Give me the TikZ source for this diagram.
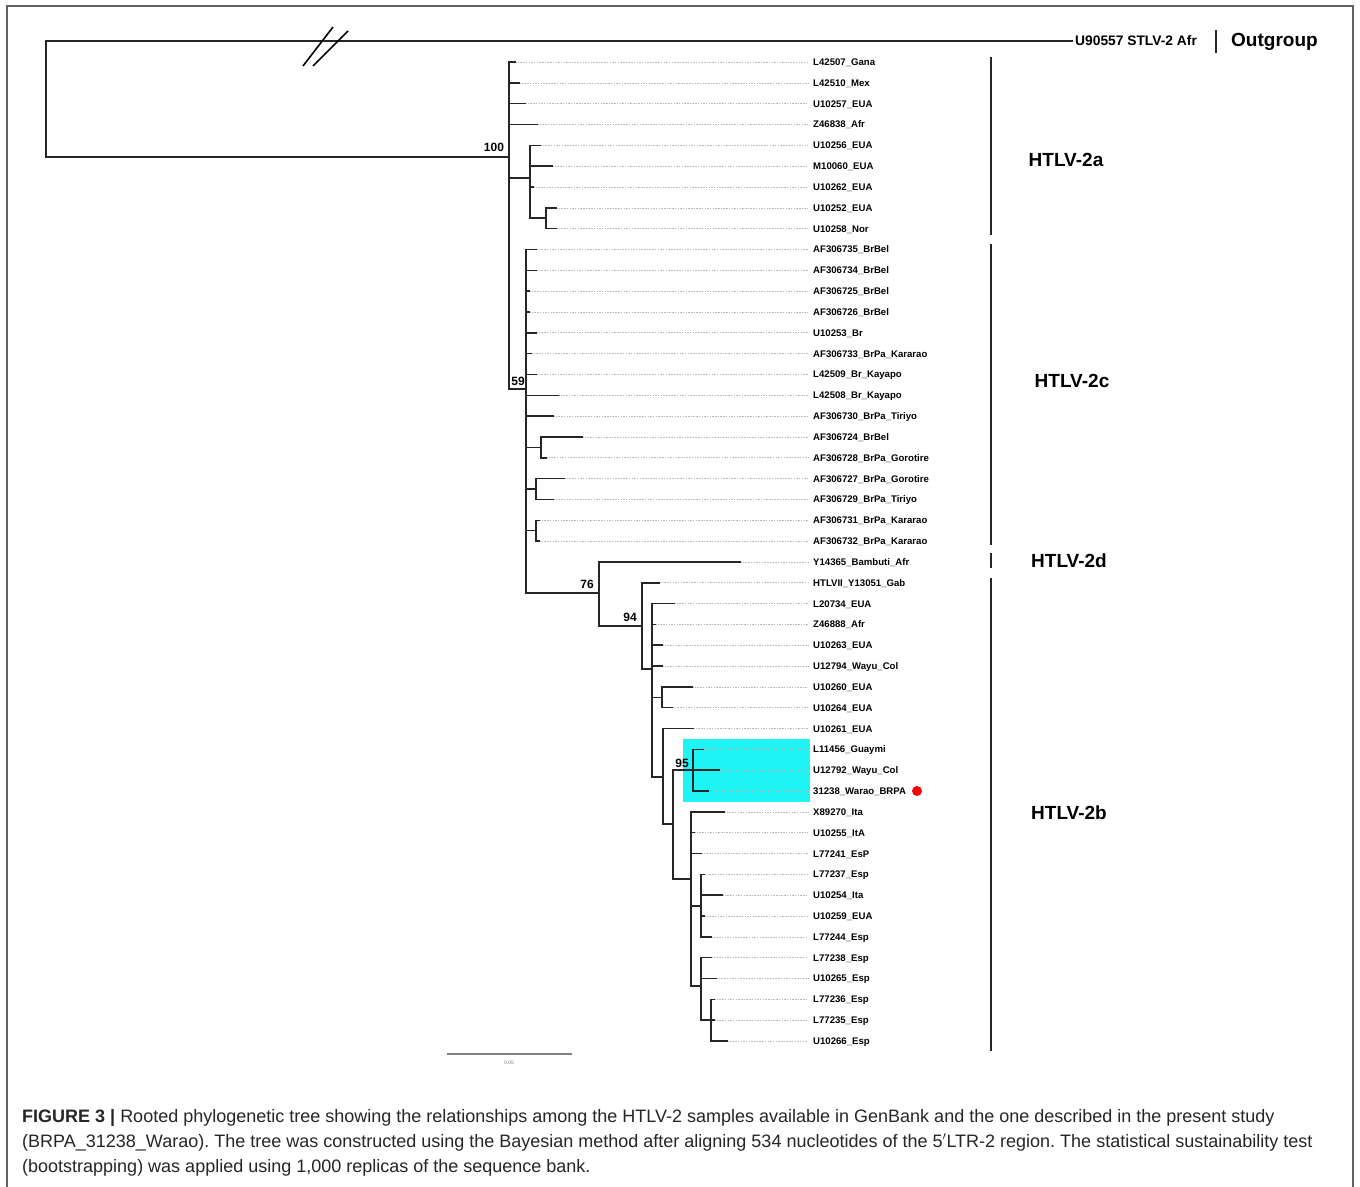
\documentclass[tikz,border=0pt]{standalone}
\usepackage{fontspec}
\setmainfont{Liberation Sans}
\definecolor{hl}{HTML}{1EF4F4}
\newcommand\tleaf[4]{% id, row, tip x, text
  \coordinate (t#1) at (#3,{62+(#2-1)*20.83});
  \node[lbl] (l#1) at (813,{62+(#2-1)*20.83}) {#4};
  \draw[dots] (t#1) -- (l#1.west);
}
\begin{document}
\frenchspacing
\begin{tikzpicture}[x=1pt,y=-1pt,
  br/.style={line width=1.5pt, black!85, line cap=rect},
  dots/.style={gray!55, line width=0.6pt, dash pattern=on 1.5pt off 1.2pt, shorten >=5pt},
  lbl/.style={font=\bfseries\fontsize{9.6pt}{11pt}\selectfont, inner sep=0pt, anchor=west, text height=6.9pt, text depth=0pt},
  boot/.style={font=\bfseries\fontsize{12pt}{14pt}\selectfont, inner sep=0pt},
  clade/.style={font=\bfseries\fontsize{19pt}{22pt}\selectfont, inner sep=0pt},
  bar/.style={line width=2pt, black!85},
  capt/.style={font=\fontsize{18pt}{21pt}\selectfont, inner sep=0pt, anchor=base west, text=black!85}]
\useasboundingbox (0,0) rectangle (1360,1186);
\fill[white] (0,0) rectangle (1360,1186);
% frame
\draw[gray!75!black, line width=1.5pt] (7,1190) -- (7,6) -- (1353,6) -- (1353,1190);
% highlight box
\fill[hl] (683,739) rectangle (810,802);
% leaves
\tleaf{1}{1}{515}{L42507\_Gana}
\tleaf{2}{2}{519}{L42510\_Mex}
\tleaf{3}{3}{525}{U10257\_EUA}
\tleaf{4}{4}{537}{Z46838\_Afr}
\tleaf{5}{5}{540}{U10256\_EUA}
\tleaf{6}{6}{552}{M10060\_EUA}
\tleaf{7}{7}{533}{U10262\_EUA}
\tleaf{8}{8}{556}{U10252\_EUA}
\tleaf{9}{9}{556}{U10258\_Nor}
\tleaf{10}{10}{536}{AF306735\_BrBel}
\tleaf{11}{11}{536}{AF306734\_BrBel}
\tleaf{12}{12}{529}{AF306725\_BrBel}
\tleaf{13}{13}{529}{AF306726\_BrBel}
\tleaf{14}{14}{536}{U10253\_Br}
\tleaf{15}{15}{531}{AF306733\_BrPa\_Kararao}
\tleaf{16}{16}{536}{L42509\_Br\_Kayapo}
\tleaf{17}{17}{558}{L42508\_Br\_Kayapo}
\tleaf{18}{18}{553}{AF306730\_BrPa\_Tiriyo}
\tleaf{19}{19}{582}{AF306724\_BrBel}
\tleaf{20}{20}{546}{AF306728\_BrPa\_Gorotire}
\tleaf{21}{21}{564}{AF306727\_BrPa\_Gorotire}
\tleaf{22}{22}{553}{AF306729\_BrPa\_Tiriyo}
\tleaf{23}{23}{539}{AF306731\_BrPa\_Kararao}
\tleaf{24}{24}{539}{AF306732\_BrPa\_Kararao}
\tleaf{25}{25}{740}{Y14365\_Bambuti\_Afr}
\tleaf{26}{26}{659}{HTLVII\_Y13051\_Gab}
\tleaf{27}{27}{674}{L20734\_EUA}
\tleaf{28}{28}{655}{Z46888\_Afr}
\tleaf{29}{29}{662}{U10263\_EUA}
\tleaf{30}{30}{662}{U12794\_Wayu\_Col}
\tleaf{31}{31}{692}{U10260\_EUA}
\tleaf{32}{32}{672}{U10264\_EUA}
\tleaf{33}{33}{693}{U10261\_EUA}
\tleaf{34}{34}{703}{L11456\_Guaymi}
\tleaf{35}{35}{719}{U12792\_Wayu\_Col}
\tleaf{36}{36}{708}{31238\_Warao\_BRPA}
\tleaf{37}{37}{724}{X89270\_Ita}
\tleaf{38}{38}{694}{U10255\_ItA}
\tleaf{39}{39}{701}{L77241\_EsP}
\tleaf{40}{40}{704}{L77237\_Esp}
\tleaf{41}{41}{722}{U10254\_Ita}
\tleaf{42}{42}{704}{U10259\_EUA}
\tleaf{43}{43}{711}{L77244\_Esp}
\tleaf{44}{44}{711}{L77238\_Esp}
\tleaf{45}{45}{716}{U10265\_Esp}
\tleaf{46}{46}{714}{L77236\_Esp}
\tleaf{47}{47}{714}{L77235\_Esp}
\tleaf{48}{48}{727}{U10266\_Esp}
% internal nodes
\coordinate (root) at (46,157);
\coordinate (og) at (1072,41);
\coordinate (n100) at (509,157);
\coordinate (n2a) at (530,178);
\coordinate (n2a2) at (546,218.2);
\coordinate (n59) at (526,389);
\coordinate (nA) at (541,447.3);
\coordinate (nB) at (536,489);
\coordinate (nC) at (536,530.6);
\coordinate (n76) at (599,593);
\coordinate (n94) at (642,626);
\coordinate (nD) at (652,669);
\coordinate (nE) at (662,697.3);
\coordinate (nF) at (663,777);
\coordinate (nG) at (673,824);
\coordinate (n95) at (693,770.2);
\coordinate (nH) at (691,879);
\coordinate (nI) at (701,906);
\coordinate (nJ) at (701,986);
\coordinate (nK) at (711,1020.1);
% branches
\draw[br] (root) |- (og);
\draw[br] (root) -- (n100);
\foreach \c in {t1,t2,t3,t4,n2a,n59} \draw[br] (n100) |- (\c);
\foreach \c in {t5,t6,t7,n2a2} \draw[br] (n2a) |- (\c);
\foreach \c in {t8,t9} \draw[br] (n2a2) |- (\c);
\foreach \c in {t10,t11,t12,t13,t14,t15,t16,t17,t18,nA,nB,nC,n76} \draw[br] (n59) |- (\c);
\foreach \c in {t19,t20} \draw[br] (nA) |- (\c);
\foreach \c in {t21,t22} \draw[br] (nB) |- (\c);
\foreach \c in {t23,t24} \draw[br] (nC) |- (\c);
\foreach \c in {t25,n94} \draw[br] (n76) |- (\c);
\foreach \c in {t26,nD} \draw[br] (n94) |- (\c);
\foreach \c in {t27,t28,t29,t30,nE,nF} \draw[br] (nD) |- (\c);
\foreach \c in {t31,t32} \draw[br] (nE) |- (\c);
\foreach \c in {t33,nG} \draw[br] (nF) |- (\c);
\foreach \c in {n95,nH} \draw[br] (nG) |- (\c);
\foreach \c in {t34,t35,t36} \draw[br] (n95) |- (\c);
\foreach \c in {t37,t38,t39,nI,nJ} \draw[br] (nH) |- (\c);
\foreach \c in {t40,t41,t42,t43} \draw[br] (nI) |- (\c);
\foreach \c in {t44,t45,nK} \draw[br] (nJ) |- (\c);
\foreach \c in {t46,t47,t48} \draw[br] (nK) |- (\c);
% break marks
\draw[line width=1.6pt] (303,66) -- (333,27);
\draw[line width=1.6pt] (313,66) -- (348,31);
% bootstrap values
\node[boot] (b100) at (494,147) {100};
\node[boot] (b59) at (518,381) {59};
\node[boot] (b76) at (587,584) {76};
\node[boot] (b94) at (630,617) {94};
\node[boot] (b95) at (682,763) {95};
% red dot
\node[circle, fill=red, inner sep=0pt, minimum size=10pt] (dot) at (917,791) {};
% outgroup
\node[font=\bfseries\fontsize{13.8pt}{16pt}\selectfont, inner sep=0pt, anchor=west] (ogl) at (1075,41) {U90557 STLV-2 Afr};
\draw[bar] (1216,30) -- (1216,53);
\node[clade, anchor=west] (ogt) at (1231,42) {Outgroup};
% clade bars
\draw[bar] (991,57) -- (991,235);
\draw[bar] (991,244) -- (991,545);
\draw[bar] (991,553) -- (991,568);
\draw[bar] (991,578) -- (991,1051);
\node[clade] (c2a) at (1066,160) {HTLV-2a};
\node[clade] (c2c) at (1072,381) {HTLV-2c};
\node[clade] (c2d) at (1069,561) {HTLV-2d};
\node[clade] (c2b) at (1069,813) {HTLV-2b};
% scale bar
\draw[gray, line width=1.2pt] (447,1054) -- (572,1054);
\node[font=\fontsize{5pt}{6pt}\selectfont, text=gray, inner sep=0pt] (sc) at (509,1063) {0.05};
% caption
\node[capt] (cap1) at (22,1122) {\textbf{FIGURE 3 |} Rooted phylogenetic tree showing the relationships among the HTLV-2 samples available in GenBank and the one described in the present study};
\node[capt] (cap2) at (22,1147) {(BRPA\_31238\_Warao). The tree was constructed using the Bayesian method after aligning 534 nucleotides of the 5$^{\prime}$LTR-2 region. The statistical sustainability test};
\node[capt] (cap3) at (22,1172) {(bootstrapping) was applied using 1,000 replicas of the sequence bank.};
\end{tikzpicture}
\end{document}
